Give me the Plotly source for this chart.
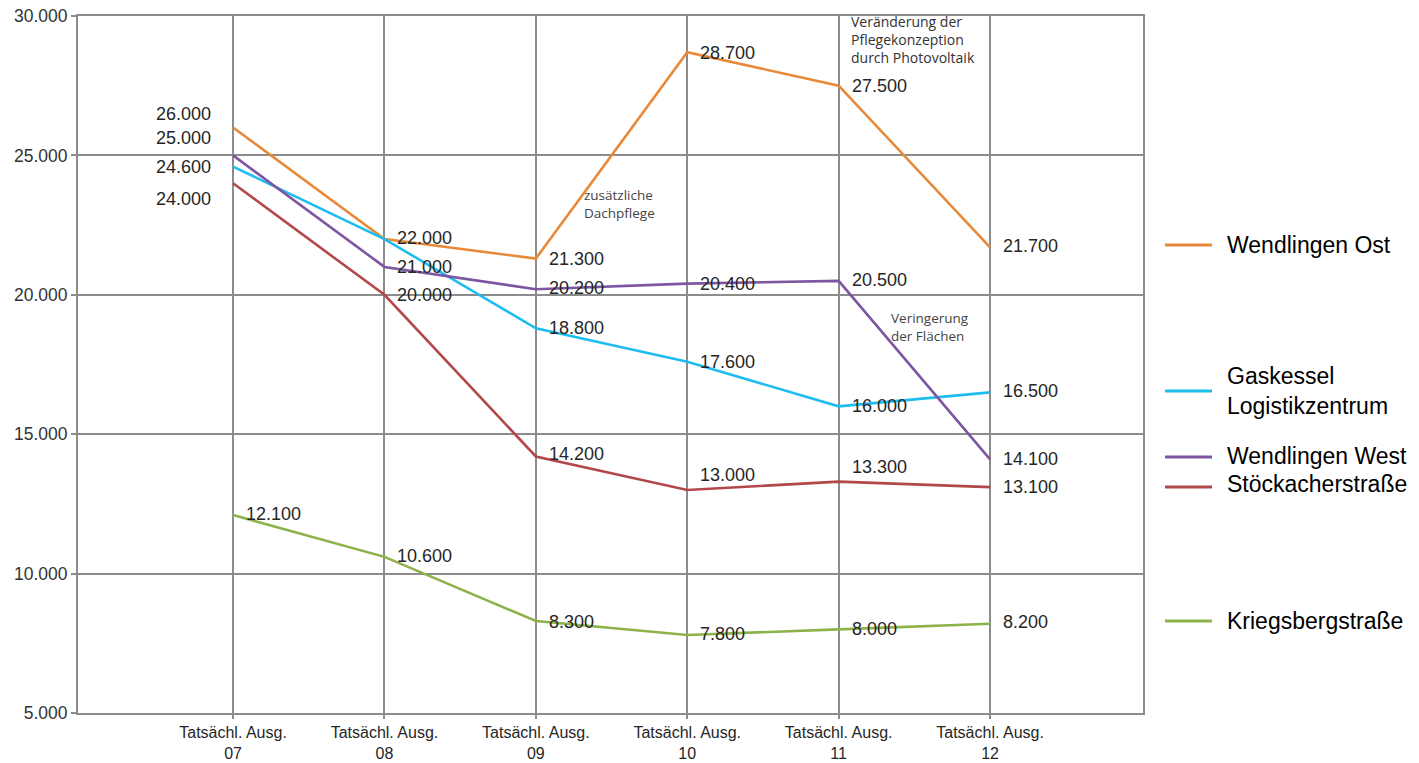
import plotly.graph_objects as go

categories = ["Tatsächl. Ausg.<br>07", "Tatsächl. Ausg.<br>08", "Tatsächl. Ausg.<br>09",
              "Tatsächl. Ausg.<br>10", "Tatsächl. Ausg.<br>11", "Tatsächl. Ausg.<br>12"]
series_names = ["Wendlingen Ost", "Gaskessel<br>Logistikzentrum", "Wendlingen West",
                "Stöckacherstraße", "Kriegsbergstraße"]
wendlingen_ost = [26000, 22000, 21300, 28700, 27500, 21700]
gaskessel = [24600, 22000, 18800, 17600, 16000, 16500]
wendlingen_west = [25000, 21000, 20200, 20400, 20500, 14100]
stoeckacher = [24000, 20000, 14200, 13000, 13300, 13100]
kriegsberg = [12100, 10600, 8300, 7800, 8000, 8200]
y_ticks = [5000, 10000, 15000, 20000, 25000, 30000]

series = [wendlingen_ost, gaskessel, wendlingen_west, stoeckacher, kriegsberg]
colors = ["#E8893A", "#1DBDF0", "#7D55A0", "#B3484A", "#8DB24A"]

# label pixel offsets (style): per series, per category (None = no label)
label_yshift = [
    [14, 1, 0, -1, 0, 1],
    [0, None, 0, 0, 0, 1],
    [17, 0, 1, 0, 1, 0],
    [-16, 0, 3, 15, 15, 0],
    [1, 1, -1, 1, 0, 2],
]

fig = go.Figure()
xs = list(range(len(categories)))
for name, vals, col in zip(series_names, series, colors):
    fig.add_trace(go.Scatter(x=xs, y=vals, mode="lines", name=name.replace("<br>", " "),
                             line=dict(color=col, width=2.6), showlegend=False))

def fmt(v):
    return f"{v:,}".replace(",", ".")

label_font = dict(family="Liberation Sans, Arial", size=18, color="#262626")
annotations = []
for si, vals in enumerate(series):
    for ci, v in enumerate(vals):
        ys = label_yshift[si][ci]
        if ys is None:
            continue
        if ci == 0 and si != 4:
            annotations.append(dict(x=ci, y=v, xref="x", yref="y", text=fmt(v), showarrow=False,
                                    xanchor="right", yanchor="middle", xshift=-20, yshift=ys,
                                    font=label_font))
        else:
            annotations.append(dict(x=ci, y=v, xref="x", yref="y", text=fmt(v), showarrow=False,
                                    xanchor="left", yanchor="middle", xshift=11, yshift=ys,
                                    font=label_font))

# notes
note_font = dict(family="Open Sans, Noto Sans", size=14, color="#333333")
small_note_font = dict(family="Open Sans, Noto Sans", size=13.5, color="#444444")
annotations.append(dict(x=4, y=30000, xref="x", yref="y", xanchor="left", yanchor="top",
                        xshift=10, yshift=6, showarrow=False, align="left",
                        text="Veränderung der<br>Pflegekonzeption<br>durch Photovoltaik",
                        font=note_font))
annotations.append(dict(x=2, y=24400, xref="x", yref="y", xanchor="left", yanchor="top",
                        xshift=46, yshift=-12, showarrow=False, align="left",
                        text="zusätzliche<br>Dachpflege", font=small_note_font))
annotations.append(dict(x=4, y=19500, xref="x", yref="y", xanchor="left", yanchor="top",
                        xshift=50, yshift=2, showarrow=False, align="left",
                        text="Veringerung<br>der Flächen", font=small_note_font))

# custom legend
W, H = 1419, 763
L, R, T, B = 78, 276, 16, 50
pw, ph = W - L - R, H - T - B
def px(X):
    return (X - L) / pw
def py(Y):
    return (H - B - Y) / ph

legend_pos = [(245, 245), (391, 391), (457, 456), (487, 484), (621, 621)]
shapes = []
for (ly, ty), name, col in zip(legend_pos, series_names, colors):
    shapes.append(dict(type="line", xref="paper", yref="paper", x0=px(1165), x1=px(1212),
                       y0=py(ly), y1=py(ly), line=dict(color=col, width=3)))
    annotations.append(dict(x=px(1225), y=py(ty), xref="paper", yref="paper", text=name,
                            xanchor="left", yanchor="middle", showarrow=False, align="left",
                            font=dict(family="Liberation Sans, Arial", size=23, color="#000000")))

fig.update_layout(
    width=W, height=H,
    margin=dict(l=L, r=R, t=T, b=B, pad=0, autoexpand=False),
    plot_bgcolor="white", paper_bgcolor="white",
    separators=",.",
    annotations=annotations, shapes=shapes,
    xaxis=dict(range=[-1.024, 6.01], tickmode="array", tickvals=xs, ticktext=categories,
               automargin=False,
               showgrid=True, gridcolor="#8C8C8C", gridwidth=2, zeroline=False,
               showline=True, linecolor="#8C8C8C", linewidth=2, mirror=True,
               ticks="outside", ticklen=4, tickcolor="#8C8C8C", tickwidth=2,
               tickfont=dict(family="Liberation Sans, Arial", size=16, color="#262626")),
    yaxis=dict(range=[5000, 30000], tickmode="array", tickvals=y_ticks,
               tickformat=",.0f", automargin=False,
               showgrid=True, gridcolor="#8C8C8C", gridwidth=2, zeroline=False,
               showline=True, linecolor="#8C8C8C", linewidth=2, mirror=True,
               ticks="outside", ticklen=5, tickcolor="#8C8C8C", tickwidth=2,
               tickfont=dict(family="Liberation Sans, Arial", size=17.5, color="#333333")),
)

fig.write_html("out.html")
